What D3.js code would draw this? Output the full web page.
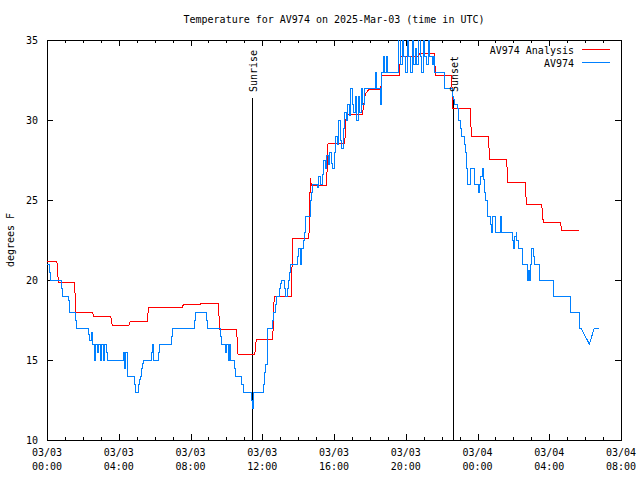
<!DOCTYPE html>
<html><head><meta charset="utf-8">
<script src="https://cdn.jsdelivr.net/npm/d3@7"></script>
<style>
html,body{margin:0;padding:0;background:#fff;}
svg text{font-family:"DejaVu Sans Mono",monospace;font-size:10px;fill:#000;}
</style></head><body>
<svg id="chart" width="640" height="480"></svg>
<script>
// ---------- data ----------
const title = "Temperature for AV974 on 2025-Mar-03 (time in UTC)";
const yLabel = "degrees F";
const seriesNames = ["AV974 Analysis", "AV974"];
const seriesColors = ["#ff0000", "#0080ff"];
const xTickMinutes = [0, 240, 480, 720, 960, 1200, 1440, 1680, 1920];
const xTickDates = ["03/03","03/03","03/03","03/03","03/03","03/03","03/04","03/04","03/04"];
const xTickTimes = ["00:00","04:00","08:00","12:00","16:00","20:00","00:00","04:00","08:00"];
const yTicks = [10, 15, 20, 25, 30, 35];
const sunLabels = ["Sunrise", "Sunset"];
const sunMinutes = [688, 1360];

// analysis: [minute since 03/03 00:00 UTC, degF]
const redAnalysis = [
[0,21.17],[38,19.86],[97,17.98],[157,17.73],[218,17.17],[279,17.42],[340,18.29],[457,18.48],
[517,18.54],[578,16.92],[639,15.36],[700,16.29],[760,18.96],[822,22.6],[881,26.4],[884,25.9],
[940,28.54],[1001,30.37],[1060,31.04],[1064,31.56],[1068,31.7],[1072,31.8],[1077,31.92],
[1121,32.81],[1183,34.0],[1247,34.17],[1300,32.81],[1358,30.73],[1420,28.98],[1481,27.56],
[1542,26.1],[1604,24.69],[1660,23.6],[1722,23.1],[1780,23.1]
];

// observations: [minute, degF, optional 'L' = straight line from previous]
const blueObs = [
[0,21],[8,20.5],[12,20],[48,19.5],[51,19],[71,18.7],[76,18],[96,17.5],[98,17],
[138,16.6],[143,16.2],[148,16.7],[153,16],[158,15],[163,16],[168,15.5],[173,16],[178,15],
[183,16],[188,15],[193,16],[198,15.5],[203,15],
[256,15.5],[260,14.5],[264,15.5],[268,14],
[293,13.5],[296,13],
[306,13.5],[309,13.8],[312,14],[316,14.5],[319,14.8],[323,15],
[348,15.5],[352,16],[356,15],[373,15.5],[376,16],
[418,16.5],[421,17],
[493,17.5],[497,18],
[532,17.5],[536,17],
[580,16.5],[584,16],
[597,15.5],[601,16],[606,15],[610,16],[614,15],
[627,14.5],[630,14],
[652,13.5],[656,13],
[684,12.5],[687,12],[690,13],
[725,13.5],[728,14.2],[732,14.7],[736,16],[738,17],
[755,17.5],[758,18],
[764,18.5],[767,19],
[778,19.5],[781,19.8],[784,20],
[795,19.5],[798,19],
[805,19.5],[808,20],[811,20.5],[814,21],
[837,21.5],[842,22],[847,21],[852,22],[857,22.5],[861,23],[865,24],
[881,25],[884,25.5],[887,26],
[904,25.8],[909,26.5],[914,26],
[920,26.6],[925,27.5],[930,27],[935,27.8],[940,27.2],[945,28],[951,27.3],[956,27],[961,28],
[966,29],[971,28.5],[976,30],[981,28.7],[986,28.2],[991,29.5],[996,30.5],[1001,30],[1006,31],
[1011,30.3],[1016,32],[1021,31],[1026,30.5],[1031,31.5],[1036,30],[1041,31.5],[1046,30.5],
[1051,32],[1056,31],[1061,32],
[1099,33],[1103,32],
[1117,31],[1120,33],[1125,34],[1130,33],[1135,34],[1140,33],
[1177,35.5],[1182,33.5],[1189,35.5],[1194,34],[1200,33],[1205,35.5],[1210,34],[1216,33],
[1221,35],[1226,33.5],[1232,34.5],[1237,33.5],[1243,35.5],[1248,34],[1254,33],[1259,35.5],
[1264,34],[1270,33.5],[1275,35],[1280,34],
[1290,33.5],[1294,34],[1297,33],
[1328,32],
[1356,31.5],[1359,31.3],[1362,31],[1373,30.7],[1376,30],[1384,29.5],[1387,29],[1395,28.5],[1399,28],
[1403,27],[1407,26],[1418,27],[1429,26],[1442,25.5],[1446,26],[1451,26.5],[1456,27],
[1461,26.3],[1465,25.5],[1468,25],[1472,24],[1482,23.5],[1486,23],[1490,24],[1499,23],
[1518,24],[1521,23],
[1558,22.5],[1561,22],[1565,22.7],[1569,23],[1572,22.5],[1576,22],[1590,21],[1607,20],[1611,20.6],
[1615,20],[1618,21],[1622,22],[1626,21.5],[1630,21],[1646,20],
[1694,19],[1751,18],[1781,17],[1786,17],
[1814,16,'L'],[1831,17,'L'],[1847,17]
];

// ---------- chart ----------
const plot = {left: 47, right: 621, top: 40, bottom: 440};
const svg = d3.select("#chart");

const x = d3.scaleLinear().domain([0, 1920]).range([plot.left, plot.right]);
const y = d3.scaleLinear().domain([10, 35]).range([plot.bottom, plot.top]);

function stepVertices(data, ramp) {
  const out = [[data[0][0], data[0][1]]];
  for (let i = 1; i < data.length; i++) {
    const [t, v, mode] = data[i];
    const prev = data[i - 1];
    if (mode === 'L') { out.push([t, v]); continue; }
    const ts = Math.max(prev[0], t - ramp);
    out.push([ts, prev[1]]);
    out.push([t, v]);
  }
  return out;
}

svg.append("defs").append("clipPath").attr("id", "clip")
  .append("rect")
  .attr("x", plot.left).attr("y", plot.top)
  .attr("width", plot.right - plot.left).attr("height", plot.bottom - plot.top);

// title
svg.append("text").attr("x", (plot.left + plot.right) / 2).attr("y", 23)
  .attr("text-anchor", "middle").text(title);

// y label
svg.append("text")
  .attr("transform", `translate(14,${(plot.top + plot.bottom) / 2}) rotate(-90)`)
  .attr("text-anchor", "middle").text(yLabel);

const styleAxis = g => {
  g.select(".domain").remove();
  g.selectAll(".tick line").attr("stroke", "#000").attr("shape-rendering", "crispEdges");
  g.selectAll(".tick text").style("font-family", '"DejaVu Sans Mono",monospace').style("font-size", "10px").attr("fill", "#000");
};

const hours = d3.range(0, 1921, 60);

// bottom axis
svg.append("g").attr("transform", `translate(0,${plot.bottom})`)
  .call(d3.axisBottom(x).tickValues(hours).tickSize(-3).tickSizeOuter(0).tickFormat(() => ""))
  .call(styleAxis);
svg.append("g").attr("transform", `translate(0,${plot.bottom})`)
  .call(d3.axisBottom(x).tickValues(xTickMinutes).tickSize(-6).tickSizeOuter(0).tickFormat(() => ""))
  .call(styleAxis);
// top axis
svg.append("g").attr("transform", `translate(0,${plot.top})`)
  .call(d3.axisTop(x).tickValues(hours).tickSize(-3).tickSizeOuter(0).tickFormat(() => ""))
  .call(styleAxis);
svg.append("g").attr("transform", `translate(0,${plot.top})`)
  .call(d3.axisTop(x).tickValues(xTickMinutes).tickSize(-6).tickSizeOuter(0).tickFormat(() => ""))
  .call(styleAxis);

// x tick labels (two lines)
const xl = svg.append("g").selectAll("text").data(xTickMinutes).join("text")
  .attr("text-anchor", "middle");
xl.append("tspan").attr("x", d => x(d)).attr("y", 456).text((d, i) => xTickDates[i]);
xl.append("tspan").attr("x", d => x(d)).attr("y", 470).text((d, i) => xTickTimes[i]);

// left / right axes
svg.append("g").attr("transform", `translate(${plot.left},0)`)
  .call(d3.axisLeft(y).tickValues(yTicks).tickSize(-6).tickPadding(9).tickSizeOuter(0))
  .call(styleAxis);
svg.append("g").attr("transform", `translate(${plot.right},0)`)
  .call(d3.axisRight(y).tickValues(yTicks).tickSize(-6).tickSizeOuter(0).tickFormat(() => ""))
  .call(styleAxis);

// frame
svg.append("rect")
  .attr("x", plot.left).attr("y", plot.top)
  .attr("width", plot.right - plot.left).attr("height", plot.bottom - plot.top)
  .attr("fill", "none").attr("stroke", "#000").attr("shape-rendering", "crispEdges");

// sunrise / sunset lines
svg.append("g").selectAll("line").data(sunMinutes).join("line")
  .attr("x1", d => x(d)).attr("x2", d => x(d))
  .attr("y1", 98).attr("y2", plot.bottom)
  .attr("stroke", "#000").attr("shape-rendering", "crispEdges");

// data lines
const line = d3.line().x(d => x(d[0])).y(d => y(d[1]));
const dataG = svg.append("g").attr("clip-path", "url(#clip)");
dataG.append("path").attr("d", line(stepVertices(redAnalysis, 5)))
  .attr("fill", "none").attr("stroke", seriesColors[0]).attr("stroke-width", 1)
  .attr("shape-rendering", "crispEdges");
dataG.append("path").attr("d", line(stepVertices(blueObs, 0)))
  .attr("fill", "none").attr("stroke", seriesColors[1]).attr("stroke-width", 1)
  .attr("shape-rendering", "crispEdges");

// sun labels
svg.append("g").selectAll("text").data(sunMinutes).join("text")
  .attr("transform", d => `translate(${x(d) + 4.5},92) rotate(-90)`)
  .attr("text-anchor", "start")
  .text((d, i) => sunLabels[i]);

// legend
const lg = svg.append("g");
seriesNames.forEach((name, i) => {
  const ly = 49 + i * 13.5;
  lg.append("text").attr("x", 574).attr("y", ly + 4.5).attr("text-anchor", "end").text(name);
  lg.append("line").attr("x1", 582).attr("x2", 610).attr("y1", ly).attr("y2", ly)
    .attr("stroke", seriesColors[i]).attr("shape-rendering", "crispEdges");
});
</script>
</body></html>
